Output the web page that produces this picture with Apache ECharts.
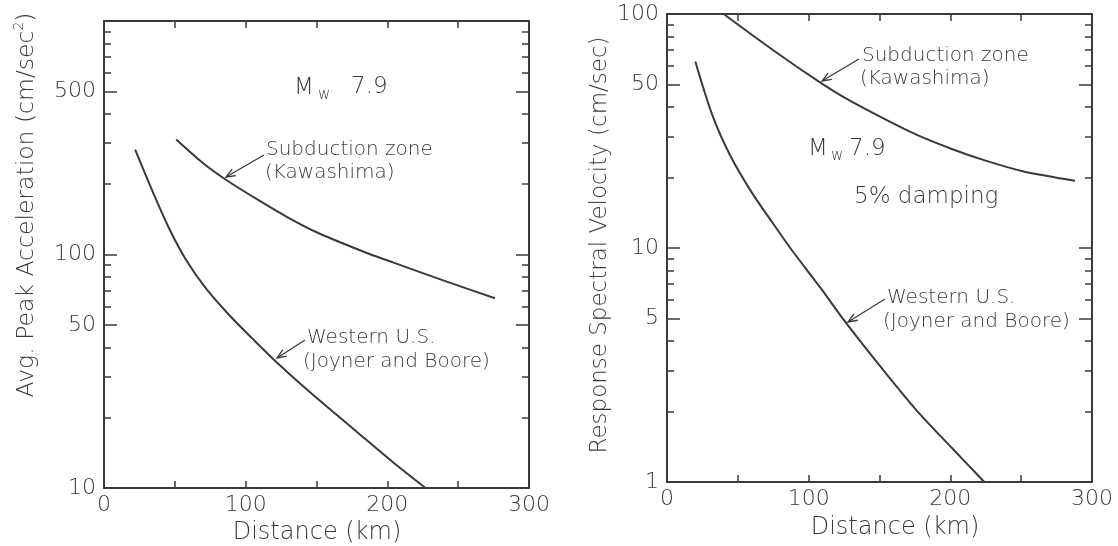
<!DOCTYPE html>
<html><head><meta charset="utf-8">
<script src="https://cdn.jsdelivr.net/npm/echarts@6/dist/echarts.min.js"></script>
<style>html,body{margin:0;padding:0;background:#fff}#c{width:1118px;height:546px}</style>
</head><body><div id="c"></div>
<script>
// ---- tick / label values ----
const distLabels = [0, 100, 200, 300];
const distTicks = [50, 100, 150, 200, 250];
const accLabels = [10, 50, 100, 500];
const accMajor = [10, 50, 100, 500, 1000];
const accMinor = [20, 30, 40, 60, 70, 80, 90, 200, 300, 400, 600, 700, 800, 900];
const velLabels = [1, 5, 10, 50, 100];
const velMajor = [1, 5, 10, 50, 100];
const velMinor = [2, 3, 4, 6, 7, 8, 9, 20, 30, 40, 60, 70, 80, 90];

// ---- series ----
const accWesternDist = [22, 35, 46.6, 58.3, 72.4, 89, 105, 122, 143, 179, 204, 227];
const accWesternVal  = [281, 182, 127, 94, 71, 54.5, 43.5, 34.5, 26.5, 17.3, 12.9, 10];
const accSubDist = [51, 70, 86.6, 105, 129, 152, 186.5, 204, 242, 276];
const accSubVal  = [311, 246, 208, 177, 145, 123, 101, 92.5, 76.5, 65];
const velWesternDist = [20, 32, 45, 60, 75, 87, 108, 126, 150, 176, 201, 224];
const velWesternVal  = [62.7, 37, 24.6, 17.2, 12.7, 10, 6.8, 4.82, 3.15, 2.03, 1.4, 1];
const velSubDist = [40, 75, 108, 125, 150, 176, 201, 226, 251, 288];
const velSubVal  = [100, 70, 51, 44, 36.5, 30.5, 26.5, 23.5, 21.3, 19.4];

const INK = '#3a3a3a';
const FONT = 'DejaVu Sans';
const FW = 'lighter';

const pairs = (xs, ys) => xs.map((x, i) => [x, ys[i]]);

function xAxes(grid) {
  const base = {
    gridIndex: grid, type: 'value', min: 0, max: 300,
    axisLine: { show: true, onZero: false, lineStyle: { color: INK, width: 2 } },
    axisTick: { show: true, inside: true, length: 7, customValues: distTicks, lineStyle: { color: INK, width: 1.5 } },
    splitLine: { show: false }
  };
  return [
    Object.assign({}, base, { position: 'bottom',
      axisLabel: { customValues: distLabels, color: INK, fontSize: 22, fontFamily: FONT, fontWeight: FW, margin: 6 } }),
    Object.assign({}, base, { position: 'top', axisLabel: { show: false } })
  ];
}

function yAxes(grid, min, max, major, minor, labels) {
  const mk = (pos, ticks, len, showLine, label) => ({
    gridIndex: grid, type: 'log', logBase: 10, min, max, position: pos,
    axisLine: { show: showLine, onZero: false, lineStyle: { color: INK, width: 2 } },
    axisTick: { show: true, inside: true, length: len, customValues: ticks, lineStyle: { color: INK, width: 1.5 } },
    axisLabel: label ? { customValues: labels, color: INK, fontSize: 22, fontFamily: FONT, fontWeight: FW, margin: 8 } : { show: false },
    splitLine: { show: false }, minorTick: { show: false }
  });
  return [
    mk('left', major, 13, true, true),
    mk('left', minor, 7, false, false),
    mk('right', major, 13, true, false),
    mk('right', minor, 7, false, false)
  ];
}

function txt(x, y, text, size, extra) {
  return Object.assign({
    type: 'text', x, y, silent: true,
    style: { text, fill: INK, fontSize: size, fontFamily: FONT, fontWeight: FW, align: 'left', verticalAlign: 'middle' }
  }, extra || {});
}
function ctxt(x, y, text, size, rot, rich) {
  return {
    type: 'text', x, y, rotation: rot || 0, silent: true,
    style: { text, fill: INK, fontSize: size, fontFamily: FONT, fontWeight: FW, align: 'center', verticalAlign: 'middle',
      lineHeight: 30, rich: rich || {} }
  };
}

function arrow(x1, y1, x2, y2) {
  const a = Math.atan2(y2 - y1, x2 - x1), L = 10, t = 0.38;
  return [
    { type: 'line', silent: true, shape: { x1, y1, x2, y2 }, style: { stroke: INK, lineWidth: 1.3 } },
    { type: 'polyline', silent: true, shape: { points: [
      [x2 - L * Math.cos(a - t), y2 - L * Math.sin(a - t)], [x2, y2],
      [x2 - L * Math.cos(a + t), y2 - L * Math.sin(a + t)] ] },
      style: { stroke: INK, lineWidth: 1.3, fill: null } }
  ];
}

const lineStyle = { color: INK, width: 2 };
const mkSeries = (xi, yi, data) => ({
  type: 'line', xAxisIndex: xi, yAxisIndex: yi, data, showSymbol: false, symbol: 'none',
  smooth: 0.3, lineStyle, silent: true, animation: false, clip: true
});

const supRich = { sup: { fontSize: 14, fontFamily: FONT, fontWeight: FW, fill: INK, verticalAlign: 'top', lineHeight: 30 } };

const graphic = [
  // left panel
  ctxt(27, 205, 'Avg. Peak Acceleration (cm/sec{sup|2})', 23.5, Math.PI / 2, supRich),
  ctxt(317, 533, 'Distance (km)', 24),
  txt(294, 88, 'M', 23),
  txt(318, 95, 'w', 15),
  txt(351, 87, '7.9', 23),
  txt(266, 150, 'Subduction zone', 20),
  txt(265, 173, '(Kawashima)', 20),
  txt(307, 338, 'Western U.S.', 20),
  txt(303, 362, '(Joyner and Boore)', 20),
  ...arrow(264, 155, 226, 177),
  ...arrow(305, 340, 277, 358),
  // right panel
  ctxt(600, 245, 'Response Spectral Velocity (cm/sec)', 23, Math.PI / 2),
  ctxt(895, 528, 'Distance (km)', 24),
  txt(808, 149, 'M', 23),
  txt(831, 156, 'w', 15),
  txt(849, 149, '7.9', 23),
  txt(854, 197, '5% damping', 23),
  txt(862, 56, 'Subduction zone', 20),
  txt(860, 79, '(Kawashima)', 20),
  txt(887, 298, 'Western U.S.', 20),
  txt(883, 322, '(Joyner and Boore)', 20),
  ...arrow(859, 59, 822, 81),
  ...arrow(885, 299, 848, 322)
];

const option = {
  backgroundColor: '#ffffff',
  animation: false,
  grid: [
    { left: 104, top: 21, width: 425, height: 467, containLabel: false },
    { left: 667, top: 14, width: 425, height: 468, containLabel: false }
  ],
  xAxis: [...xAxes(0), ...xAxes(1)],
  yAxis: [...yAxes(0, 10, 1000, accMajor, accMinor, accLabels), ...yAxes(1, 1, 100, velMajor, velMinor, velLabels)],
  series: [
    mkSeries(0, 0, pairs(accWesternDist, accWesternVal)),
    mkSeries(0, 0, pairs(accSubDist, accSubVal)),
    mkSeries(2, 4, pairs(velWesternDist, velWesternVal)),
    mkSeries(2, 4, pairs(velSubDist, velSubVal))
  ],
  graphic
};

const chart = echarts.init(document.getElementById('c'), null, { renderer: 'canvas' });
chart.setOption(option);
</script>
</body></html>
